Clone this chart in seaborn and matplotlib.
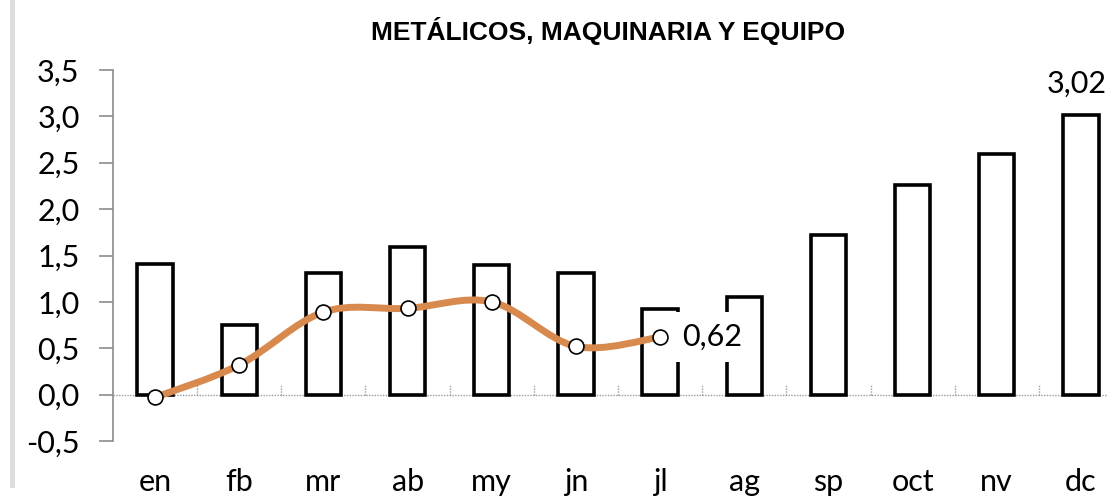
import matplotlib
matplotlib.use("Agg")
import matplotlib.pyplot as plt
from matplotlib.path import Path
from matplotlib.patches import PathPatch, Rectangle
import numpy as np
import pandas as pd
import seaborn as sns

# data
months = ['en', 'fb', 'mr', 'ab', 'my', 'jn', 'jl', 'ag', 'sp', 'oct', 'nv', 'dc']
bars_2023 = [1.41, 0.75, 1.31, 1.59, 1.40, 1.31, 0.92, 1.05, 1.72, 2.26, 2.59, 3.02]
line_2024 = [-0.03, 0.32, 0.89, 0.93, 1.00, 0.52, 0.62]
y_ticks = [-0.5, 0.0, 0.5, 1.0, 1.5, 2.0, 2.5, 3.0, 3.5]

sns.set_style("white")
plt.rcParams['font.family'] = ['Lato', 'DejaVu Sans']
plt.rcParams['text.color'] = 'black'
plt.rcParams['xtick.labelcolor'] = 'black'
plt.rcParams['ytick.labelcolor'] = 'black'

df_bar = pd.DataFrame({'mes': months, 'valor': bars_2023})
df_line = pd.DataFrame({'mes': months[:len(line_2024)], 'valor': line_2024})
df_line['pos'] = np.arange(len(df_line))

fig = plt.figure(figsize=(11.08, 5.0), dpi=100)
ax = fig.add_axes([113 / 1108, 59 / 500, 1010 / 1108, 371 / 500])

# bars: white fill, black outline
sns.barplot(data=df_bar, x='mes', y='valor', color='white', edgecolor='black',
            linewidth=2.6, width=0.42, ax=ax, zorder=2)

# zero line and small dotted ticks along it
ax.axhline(0, color='#9a9a9a', lw=1, ls=(0, (1, 1)), zorder=1)
ax.vlines(np.arange(0, len(months), 0.5), 0, 0.1, color='#9a9a9a', lw=1,
          ls=(0, (1, 1)), zorder=1)

# smoothed line (Excel-style), drawn as cubic bezier segments
pts = df_line[['pos', 'valor']].to_numpy(dtype=float)
ext = np.vstack([pts[0], pts, pts[-1]])
verts = [tuple(pts[0])]
codes = [Path.MOVETO]
for i in range(1, len(ext) - 2):
    p0, p1, p2, p3 = ext[i - 1], ext[i], ext[i + 1], ext[i + 2]
    c1 = p1 + (p2 - p0) / 6
    c2 = p2 - (p3 - p1) / 6
    verts += [tuple(c1), tuple(c2), tuple(p2)]
    codes += [Path.CURVE4] * 3
ax.add_patch(PathPatch(Path(verts, codes), fill=False, edgecolor='#D8894E',
                       lw=5, capstyle='round', zorder=3))
sns.scatterplot(data=df_line, x='pos', y='valor', s=115, color='white',
                edgecolor='black', linewidth=1.2, ax=ax, zorder=4)

# data labels
last = df_line.iloc[-1]
ax.annotate(f"{last['valor']:.2f}".replace('.', ','), (last['pos'], last['valor']),
            xytext=(16, 0), textcoords='offset points', ha='left', va='center',
            fontsize=22, color='black', zorder=5,
            bbox=dict(boxstyle='square,pad=0.35', fc='white', ec='none'))
ax.annotate(f"{bars_2023[-1]:.2f}".replace('.', ','), (len(months) - 1, bars_2023[-1]),
            xytext=(-3, 12), textcoords='offset points', ha='center', va='bottom',
            fontsize=22, color='black', zorder=5)

ax.set_xlim(-0.5, len(months) - 0.5)
ax.set_ylim(-0.5, 3.5)
ax.set_yticks(y_ticks)
ax.set_yticklabels([f"{v:.1f}".replace('.', ',') for v in y_ticks])
ax.set_xlabel('')
ax.set_ylabel('')
for s in ['top', 'right', 'bottom']:
    ax.spines[s].set_visible(False)
ax.spines['left'].set_color('#8c8c8c')
ax.spines['left'].set_linewidth(1.2)
ax.tick_params(axis='y', left=True, length=10, width=1.2, color='#8c8c8c',
               labelsize=22, pad=14, labelcolor='black')
ax.tick_params(axis='x', bottom=False, labelsize=22, pad=16, labelcolor='black')
ax.set_facecolor('none')

fig.text(0.549, 0.938, 'METÁLICOS, MAQUINARIA Y EQUIPO', ha='center', va='center',
         fontsize=19, fontweight='bold', color='black',
         family=['Liberation Sans', 'DejaVu Sans'])
fig.add_artist(Rectangle((10 / 1108, 12 / 500), 5 / 1108, 488 / 500,
                         transform=fig.transFigure, color='#dddddd', lw=0))

fig.savefig('out.png', dpi=100)
